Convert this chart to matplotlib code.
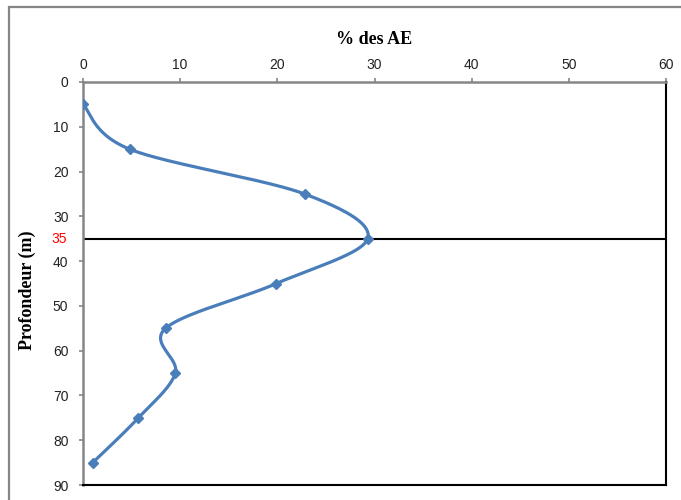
import numpy as np
import matplotlib.pyplot as plt
from matplotlib.patches import Rectangle
import matplotlib.transforms as mtransforms

# % des AE selon la profondeur
pct_ae = [0, 4.8, 22.8, 29.3, 19.9, 8.5, 9.5, 5.7, 1.0]
profondeur = [5, 15, 25, 35, 45, 55, 65, 75, 85]
prof_ref = 35

bleu = "#4A7EBB"
gris = "#868686"


def lisse(xs, ys, sx, sy, n=40):
    # courbe lissee facon Excel (Bezier / Catmull-Rom) calculee en pixels
    p = np.column_stack([np.array(xs) * sx, np.array(ys) * sy])
    pts = []
    for i in range(len(p) - 1):
        p0 = p[i - 1] if i > 0 else p[i]
        p3 = p[i + 2] if i + 2 < len(p) else p[i + 1]
        c1 = p[i] + (p[i + 1] - p0) / 6
        c2 = p[i + 1] - (p3 - p[i]) / 6
        t = np.linspace(0, 1, n)[:, None]
        seg = ((1 - t) ** 3) * p[i] + 3 * ((1 - t) ** 2) * t * c1 \
            + 3 * (1 - t) * t ** 2 * c2 + t ** 3 * p[i + 1]
        pts.append(seg)
    pts = np.vstack(pts)
    return pts[:, 0] / sx, pts[:, 1] / sy


fig = plt.figure(figsize=(6.81, 5), dpi=100)
ax = fig.add_axes([83 / 681, 1 - 485 / 500, 583 / 681, 403 / 500])

# cadre exterieur
fig.patches.append(Rectangle((9 / 681, -0.1), 1.0, 1 - 7 / 500 + 0.1,
                             transform=fig.transFigure, fill=False,
                             edgecolor=gris, linewidth=1.6))

cx, cy = lisse(pct_ae, profondeur, 9.72, 4.48)
ax.plot(cx, cy, color=bleu, linewidth=2.3, zorder=3)
ax.plot(pct_ae, profondeur, linestyle="none", marker="D", markersize=5,
        color=bleu, zorder=4)

ax.axhline(prof_ref, color="black", linewidth=1.5, zorder=2)

ax.set_xlim(0, 60)
ax.set_ylim(90, 0)
ax.set_xticks(range(0, 61, 10))
ax.set_yticks(range(0, 91, 10))
ax.xaxis.tick_top()
ax.tick_params(axis="both", colors=gris, length=3, width=1.2,
               labelsize=10, labelcolor="#222222")
ax.tick_params(axis="x", pad=4.5)
ax.tick_params(axis="y", pad=7.5)
for lab in ax.get_xticklabels() + ax.get_yticklabels():
    lab.set_family("Liberation Sans")

ax.spines["left"].set_color(gris)
ax.spines["top"].set_color(gris)
ax.spines["left"].set_linewidth(1.8)
ax.spines["top"].set_linewidth(1.8)
ax.spines["right"].set_color("black")
ax.spines["bottom"].set_color("black")
ax.spines["right"].set_linewidth(1.5)
ax.spines["bottom"].set_linewidth(1.5)

trans = mtransforms.blended_transform_factory(ax.transAxes, ax.transData)
ax.text(-0.027, prof_ref, str(prof_ref), color="red", fontsize=10,
        family="Liberation Sans", ha="right", va="center", transform=trans)

fig.text(374.5 / 681, 1 - 40 / 500, "% des AE", fontsize=13,
         fontweight="bold", family="Liberation Serif",
         ha="center", va="center")
ax.set_ylabel("Profondeur (m)", fontsize=13, fontweight="bold",
              family="Liberation Serif")
ax.yaxis.set_label_coords(-0.08, 0.484)

fig.savefig("out.png", dpi=100)
